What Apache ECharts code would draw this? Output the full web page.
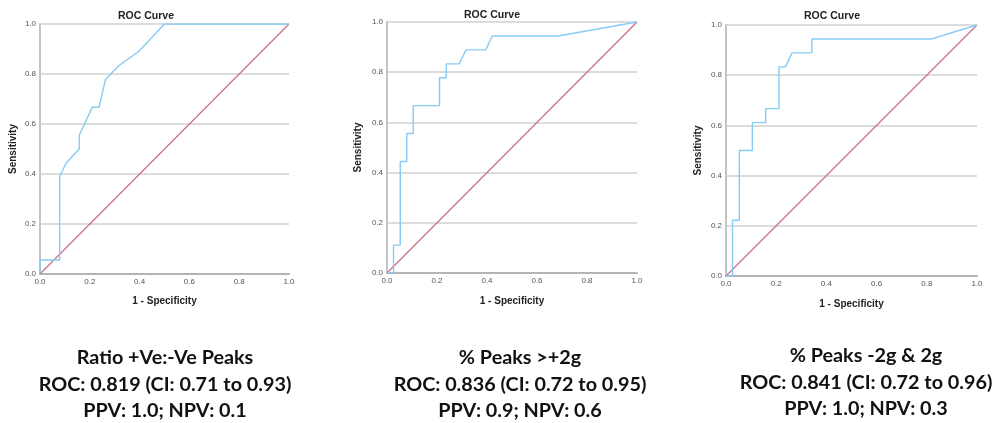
<!DOCTYPE html>
<html>
<head>
<meta charset="utf-8">
<script src="https://cdn.jsdelivr.net/npm/echarts@6/dist/echarts.min.js"></script>
<style>
  html, body { margin: 0; padding: 0; background: #fff; }
  #chart { width: 998px; height: 423px; }
</style>
</head>
<body>
<div id="chart"></div>
<script>
// ROC points (x = 1 - specificity, y = sensitivity)
var roc1X = [0, 0, 0.079, 0.079, 0.105, 0.158, 0.158, 0.21, 0.237, 0.263, 0.316, 0.395, 0.5, 1];
var roc1Y = [0, 0.056, 0.056, 0.389, 0.444, 0.5, 0.556, 0.667, 0.667, 0.778, 0.833, 0.889, 1, 1];

var roc2X = [0, 0.026, 0.026, 0.053, 0.053, 0.079, 0.079, 0.105, 0.105, 0.21, 0.21, 0.237, 0.237, 0.289, 0.316, 0.395, 0.421, 0.684, 1];
var roc2Y = [0, 0, 0.111, 0.111, 0.444, 0.444, 0.556, 0.556, 0.667, 0.667, 0.778, 0.778, 0.833, 0.833, 0.889, 0.889, 0.944, 0.944, 1];

var roc3X = [0, 0.026, 0.026, 0.053, 0.053, 0.105, 0.105, 0.158, 0.158, 0.211, 0.211, 0.237, 0.263, 0.342, 0.342, 0.816, 1];
var roc3Y = [0, 0, 0.222, 0.222, 0.5, 0.5, 0.611, 0.611, 0.667, 0.667, 0.833, 0.833, 0.889, 0.889, 0.944, 0.944, 1];

var refX = [0, 1];
var refY = [0, 1];

var chartTitle = 'ROC Curve';
var xName = '1 - Specificity';
var yName = 'Sensitivity';

var captions = [
  ['Ratio +Ve:-Ve Peaks', 'ROC: 0.819 (CI: 0.71 to 0.93)', 'PPV: 1.0; NPV: 0.1'],
  ['% Peaks >+2g', 'ROC: 0.836 (CI: 0.72 to 0.95)', 'PPV: 0.9; NPV: 0.6'],
  ['% Peaks -2g & 2g', 'ROC: 0.841 (CI: 0.72 to 0.96)', 'PPV: 1.0; NPV: 0.3']
];

var rocX = [roc1X, roc2X, roc3X];
var rocY = [roc1Y, roc2Y, roc3Y];

// panel boxes in px
var panels = [
  { left: 40, top: 24, width: 249, height: 250, titleX: 146, titleY: 16, capX: 165, capY: 358, yGap: 22, xGap: 22 },
  { left: 387, top: 22, width: 250, height: 251, titleX: 492, titleY: 15, capX: 520, capY: 358, yGap: 24, xGap: 23 },
  { left: 726, top: 25, width: 251, height: 251, titleX: 832, titleY: 16, capX: 866, capY: 356, yGap: 23, xGap: 23 }
];

function pairs(xs, ys) {
  return xs.map(function (x, i) { return [x, ys[i]]; });
}

var grids = [], xAxes = [], yAxes = [], series = [], graphics = [];

panels.forEach(function (p, i) {
  grids.push({ left: p.left, top: p.top, width: p.width, height: p.height, containLabel: false });

  xAxes.push({
    type: 'value', gridIndex: i, min: 0, max: 1, interval: 0.2,
    name: xName, nameLocation: 'middle', nameGap: p.xGap,
    nameTextStyle: { fontFamily: 'Liberation Sans', fontSize: 10, fontWeight: 'bold', color: '#222' },
    axisLine: { show: true, lineStyle: { color: '#b4b4b4', width: 2 } },
    axisTick: { show: false },
    axisLabel: {
      margin: 4, fontSize: 8, color: '#555', fontFamily: 'Liberation Sans',
      formatter: function (v) { return v.toFixed(1); }
    },
    splitLine: { show: false }
  });

  yAxes.push({
    type: 'value', gridIndex: i, min: 0, max: 1, interval: 0.2,
    name: yName, nameLocation: 'middle', nameGap: p.yGap,
    nameTextStyle: { fontFamily: 'Liberation Sans', fontSize: 10, fontWeight: 'bold', color: '#222' },
    axisLine: { show: true, lineStyle: { color: '#c4c4c4', width: 2 } },
    axisTick: { show: false },
    axisLabel: {
      margin: 4, fontSize: 8, color: '#555', fontFamily: 'Liberation Sans',
      formatter: function (v) { return v.toFixed(1); }
    },
    splitLine: { show: true, lineStyle: { color: '#dcdcdc', width: 2 } }
  });

  series.push({
    type: 'line', xAxisIndex: i, yAxisIndex: i,
    data: pairs(refX, refY),
    symbol: 'none', silent: true,
    lineStyle: { color: '#c8728a', width: 1.3 }
  });

  series.push({
    type: 'line', xAxisIndex: i, yAxisIndex: i,
    data: pairs(rocX[i], rocY[i]),
    symbol: 'none', silent: true,
    lineStyle: { color: '#86cbf6', width: 1.4 }
  });

  graphics.push({
    type: 'text', x: p.titleX, y: p.titleY,
    style: {
      text: chartTitle, textAlign: 'center', textVerticalAlign: 'middle',
      font: 'bold 10.5px "Liberation Sans"', fill: '#222'
    }
  });

  captions[i].forEach(function (line, k) {
    graphics.push({
      type: 'text', x: p.capX, y: p.capY + k * 26.5,
      style: {
        text: line, textAlign: 'center', textVerticalAlign: 'middle',
        font: 'bold 19.8px Lato', fill: '#111'
      }
    });
  });
});

var myChart = echarts.init(document.getElementById('chart'));
myChart.setOption({
  animation: false,
  backgroundColor: '#fff',
  grid: grids,
  xAxis: xAxes,
  yAxis: yAxes,
  series: series,
  graphic: graphics
});
</script>
</body>
</html>
